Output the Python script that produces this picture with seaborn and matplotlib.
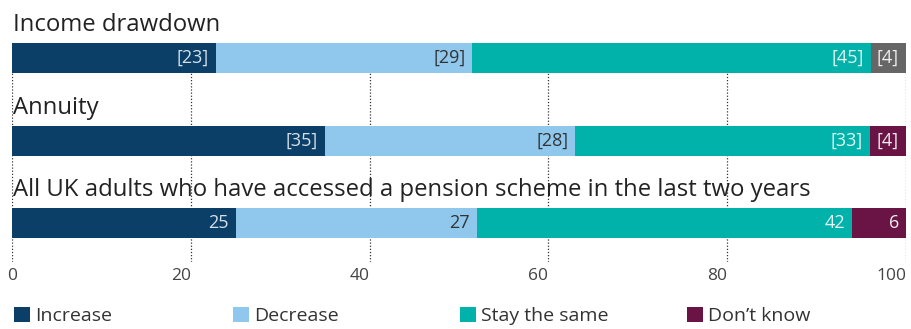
import matplotlib
matplotlib.use("Agg")
import matplotlib.pyplot as plt
import seaborn as sns
import pandas as pd
from matplotlib.patches import Patch
from matplotlib.transforms import offset_copy

# Survey groups and their answers (percent of respondents)
groups = [
    "Income drawdown",
    "Annuity",
    "All UK adults who have accessed a pension scheme in the last two years",
]
responses = ["Increase", "Decrease", "Stay the same", "Don\u2019t know"]
increase = [23, 35, 25]
decrease = [29, 28, 27]
stay_same = [45, 33, 42]
dont_know = [4, 4, 6]
low_base = [True, True, False]  # bracketed figures = low base size
ticks = [0, 20, 40, 60, 80, 100]

seg_colors = ["#0b3f67", "#8fc8ec", "#00b2aa", "#6a1446"]
dont_know_row_colors = ["#666666", "#6a1446", "#6a1446"]
text_colors = ["#d5e0ea", "#333333", "#e4f6f5", "#eeeeee"]

sns.set_theme(style="white")
plt.rcParams["font.family"] = ["Open Sans", "DejaVu Sans"]

# Long-form table with each row scaled to a 100% stack
rows = []
values = [increase, decrease, stay_same, dont_know]
for gi, g in enumerate(groups):
    total = sum(v[gi] for v in values)
    start = 0.0
    for ri, r in enumerate(responses):
        v = values[ri][gi]
        share = v / total * 100
        rows.append(dict(group=g, response=r, value=v, start=start,
                         end=start + share, order=ri))
        start += share
df = pd.DataFrame(rows)

fig = plt.figure(figsize=(9.12, 3.29), dpi=100)
ax = fig.add_axes([12 / 912, 1 - 262 / 329, 894 / 912, (262 - 43) / 329])

bar_w = 0.363
# Draw cumulative bars from the outermost segment inwards
for ri in reversed(range(len(responses))):
    sub = df[df.order == ri]
    n_before = len(ax.patches)
    sns.barplot(data=sub, x="end", y="group", order=groups, orient="h",
                color=seg_colors[ri], saturation=1, width=bar_w,
                errorbar=None, linewidth=0, ax=ax)
    if ri == 3:
        for gi, p in enumerate(ax.patches[n_before:]):
            p.set_facecolor(dont_know_row_colors[gi])

# Segment value labels
lbl_tf = offset_copy(ax.transData, fig=fig, x=-7, y=0, units="dots")
for _, r in df.iterrows():
    gi = groups.index(r.group)
    txt = f"[{r.value}]" if low_base[gi] else f"{r.value}"
    ax.text(r.end, gi, txt, ha="right", va="center", fontsize=13,
            color=text_colors[r.order], transform=lbl_tf)

# Group headings above each bar
head_tf = offset_copy(ax.transData, fig=fig, x=1, y=12, units="dots")
for gi, g in enumerate(groups):
    ax.text(0, gi - bar_w / 2, g, ha="left", va="baseline", fontsize=17.2,
            color="#222222", transform=head_tf, clip_on=False)

ax.set_xlim(0, 100)
ax.set_ylim(2.468, -0.1815)
ax.set_xticks(ticks)
ax.set_xticklabels([str(t) for t in ticks])
for t, lab in zip(ticks, ax.get_xticklabels()):
    lab.set_ha("center" if t == 0 else "right")
ax.tick_params(axis="x", length=0, pad=4, labelsize=12.5, labelcolor="#444444")
ax.set_yticks([])
ax.set_xlabel("")
ax.set_ylabel("")
for s in ax.spines.values():
    s.set_visible(False)
ax.set_axisbelow(True)
ax.grid(axis="x", color="#333333", linestyle=(0, (1, 1.5)), linewidth=0.9)
ax.grid(axis="y", visible=False)

# Legend entries on a fixed grid
legend_x = [14, 233, 460, 687]
for ri, r in enumerate(responses):
    fig.legend(handles=[Patch(facecolor=seg_colors[ri], linewidth=0)], labels=[r],
               loc="center left", bbox_to_anchor=(legend_x[ri] / 912, 1 - 316 / 329),
               frameon=False, borderpad=0, borderaxespad=0, handlelength=0.8,
               handleheight=0.8, handletextpad=0.3, fontsize=14,
               labelcolor="#333333")

fig.savefig("out.png", dpi=100)
